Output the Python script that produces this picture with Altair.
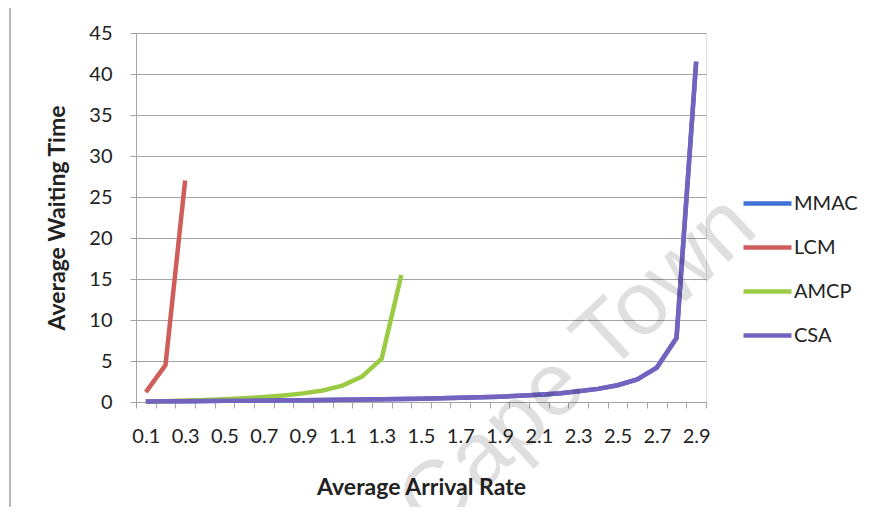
import altair as alt
import pandas as pd

# ---- data ----
rates = [round(0.1 * i, 1) for i in range(1, 30)]  # 0.1 .. 2.9 (categories)

lcm = [1.2, 4.5, 27.0]
amcp = [0.05, 0.1, 0.17, 0.25, 0.34, 0.45, 0.6, 0.8, 1.05, 1.4, 2.0, 3.1, 5.3, 15.5]
csa = [0.05, 0.08, 0.1, 0.12, 0.14, 0.16, 0.18, 0.2, 0.22, 0.25, 0.28, 0.31, 0.34,
       0.37, 0.41, 0.46, 0.52, 0.58, 0.65, 0.75, 0.88, 1.05, 1.3, 1.6, 2.05, 2.75,
       4.2, 7.8, 41.5]
mmac = list(csa)  # hidden underneath CSA in the reference

series_names = ["MMAC", "LCM", "AMCP", "CSA"]
series_values = [mmac, lcm, amcp, csa]
series_colors = ["#3E72D4", "#CF5D59", "#9BCB45", "#7363BF"]

rows = []
for name, vals in zip(series_names, series_values):
    for r, v in zip(rates, vals):
        rows.append({"rate": r, "wait": v, "series": name})
df = pd.DataFrame(rows)

y_ticks = list(range(0, 46, 5))
x_bounds = [round(0.05 + 0.1 * k, 2) for k in range(0, 30)]

FONT = "Lato"
GRID = "#A3A3AB"
TXT = "#222222"

W, H = 570, 369

lines = alt.Chart(df).mark_line(strokeWidth=4.5).encode(
    x=alt.X(
        "rate:Q",
        scale=alt.Scale(domain=[0.05, 2.95], nice=False, zero=False),
        axis=alt.Axis(
            title="Average Arrival Rate",
            values=x_bounds,
            grid=False,
            tickSize=6,
            tickColor=GRID,
            domainColor=GRID,
            labelOffset=W / 29 / 2,
            labelExpr="round(datum.value*10 - 0.5) % 2 == 0 ? format(datum.value + 0.05, '.1f') : ''",
            labelOverlap=False,
            labelFlush=False,
            labelBound=False,
            labelPadding=18,
            labelFontSize=20,
            labelFont=FONT,
            labelColor=TXT,
            titleFont=FONT,
            titleFontSize=23,
            titleFontWeight="bold",
            titleColor=TXT,
            titlePadding=30,
        ),
    ),
    y=alt.Y(
        "wait:Q",
        scale=alt.Scale(domain=[0, 45], nice=False),
        axis=alt.Axis(
            title="Average Waiting Time",
            values=y_ticks,
            grid=True,
            gridColor=GRID,
            tickSize=6,
            tickColor=GRID,
            domainColor=GRID,
            labelPadding=18,
            labelFontSize=20,
            labelFont=FONT,
            labelColor=TXT,
            titleFont=FONT,
            titleFontSize=23,
            titleFontWeight="bold",
            titleColor=TXT,
            titlePadding=19,
        ),
    ),
    color=alt.Color(
        "series:N",
        scale=alt.Scale(domain=series_names, range=series_colors),
        sort=series_names,
        legend=alt.Legend(
            title=None,
            orient="none",
            legendX=605,
            legendY=144,
            symbolType="stroke",
            symbolSize=2304,
            symbolStrokeWidth=4.5,
            rowPadding=7,
            labelOffset=0,
            labelFontSize=20,
            labelFont=FONT,
            labelColor=TXT,
            padding=0,
        ),
    ),
    order=alt.Order("rate:Q"),
)

one = alt.Data(values=[{}])

frame_left = alt.Chart(one).mark_rule(color="#B8B8BC", strokeWidth=2).encode(
    x=alt.value(-126), y=alt.value(-28), y2=alt.value(490)
)
frame_top = alt.Chart(one).mark_rule(color="#B8B8BC", strokeWidth=2).encode(
    x=alt.value(-126), x2=alt.value(735), y=alt.value(-28)
)

watermark = alt.Chart(one).mark_text(
    text="Cape Town",
    angle=317,
    fontSize=90,
    font="Liberation Sans",
    color="#000000",
    opacity=0.12,
    align="center",
    baseline="middle",
).encode(x=alt.value(442), y=alt.value(332))

chart = alt.layer(frame_left, frame_top, lines, watermark).properties(
    width=W,
    height=H,
    autosize=alt.AutoSizeParams(type="none"),
    padding={"left": 128, "top": 25, "right": 163, "bottom": 105},
).configure_view(strokeWidth=0).configure(background="white")

chart.save("out.html", embed_options={"renderer": "svg", "actions": False})
